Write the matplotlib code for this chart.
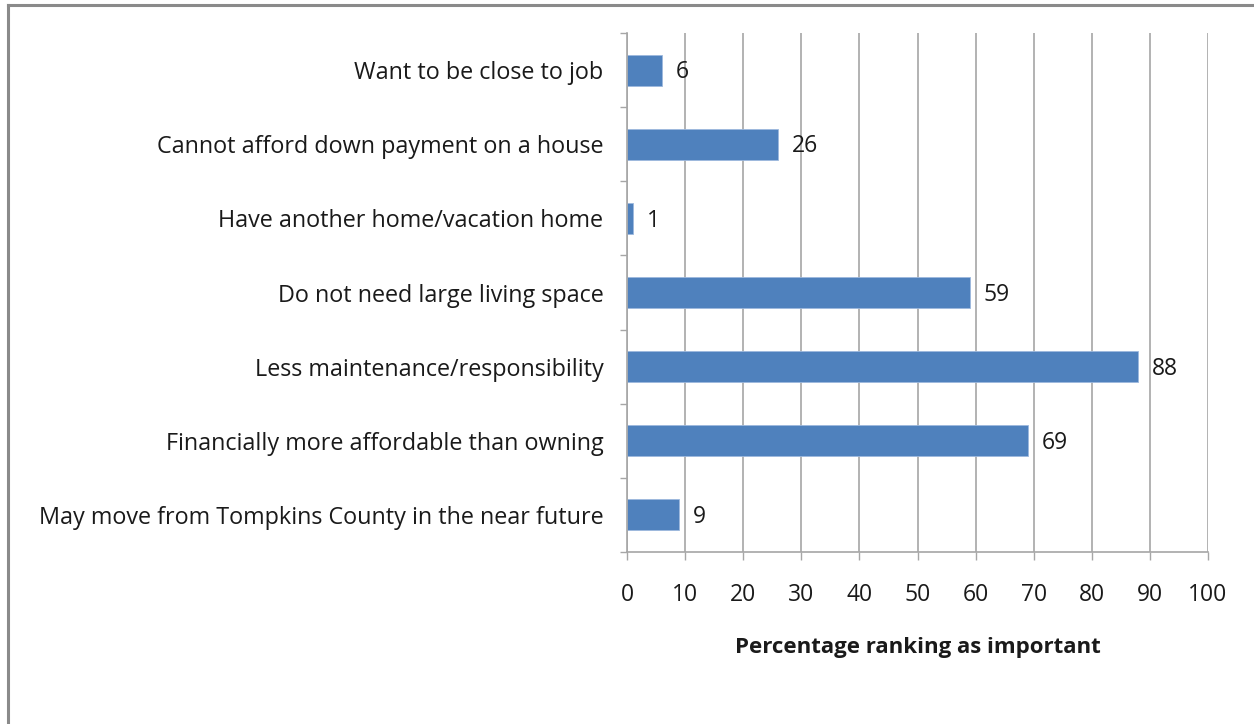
import matplotlib
matplotlib.use("Agg")
import matplotlib.pyplot as plt
from matplotlib.lines import Line2D

plt.rcParams['font.family'] = ['Open Sans', 'DejaVu Sans']

categories = [
    "Want to be close to job",
    "Cannot afford down payment on a house",
    "Have another home/vacation home",
    "Do not need large living space",
    "Less maintenance/responsibility",
    "Financially more affordable than owning",
    "May move from Tompkins County in the near future",
]
values = [6, 26, 1, 59, 88, 69, 9]
x_ticks = list(range(0, 101, 10))
x_label = "Percentage ranking as important"

bar_color = "#4F81BD"
grid_color = "#A6A6A6"
text_color = "#1a1a1a"

fig = plt.figure(figsize=(12.54, 7.24), dpi=100)
ax = fig.add_axes([627 / 1254, 1 - 552 / 724, (1208 - 627) / 1254, (552 - 33) / 724])

n = len(categories)
ypos = list(range(n))
ax.barh(ypos, values, height=0.42, color=bar_color, edgecolor="#9DB9DD",
        linewidth=0.6, zorder=3)

for y, v in zip(ypos, values):
    ax.text(v + 2.4, y + 0.03, f"{v}", va="center", ha="left", fontsize=16.5,
            color=text_color, zorder=4)

ax.set_xlim(0, 100)
ax.set_ylim(n - 0.5, -0.5)
ax.set_xticks(x_ticks)
ax.set_xticklabels([str(t) for t in x_ticks], fontsize=16.5, color=text_color)
ax.set_yticks(ypos)
ax.set_yticklabels(categories, fontsize=16.8, color=text_color)

# outward tick marks at category boundaries on the value axis side
ax.set_yticks([i - 0.5 for i in range(n + 1)], minor=True)
ax.tick_params(axis="y", which="major", length=0, pad=17)
ax.tick_params(axis="y", which="minor", length=5, width=1, color=grid_color,
               direction="out")
ax.tick_params(axis="x", which="major", length=6, width=1, color=grid_color,
               direction="out", pad=16)

ax.grid(axis="x", color=grid_color, linewidth=1.2, zorder=0)
ax.set_axisbelow(True)
for side in ("top", "right"):
    ax.spines[side].set_visible(False)
for side in ("left", "bottom"):
    ax.spines[side].set_color(grid_color)
    ax.spines[side].set_linewidth(1.2)
    ax.spines[side].set_zorder(5)

ax.set_xlabel(x_label, fontsize=16, fontweight="bold", color=text_color,
              labelpad=22)

# chart frame (top and left edges)
fig.add_artist(Line2D([7.5 / 1254, 7.5 / 1254], [0, 1 - 4.5 / 724],
                      transform=fig.transFigure, color="#8A8A8A", linewidth=2.2))
fig.add_artist(Line2D([7.5 / 1254, 1], [1 - 4.5 / 724, 1 - 4.5 / 724],
                      transform=fig.transFigure, color="#8A8A8A", linewidth=2.2))

fig.savefig("out.png", dpi=100, facecolor="white")
